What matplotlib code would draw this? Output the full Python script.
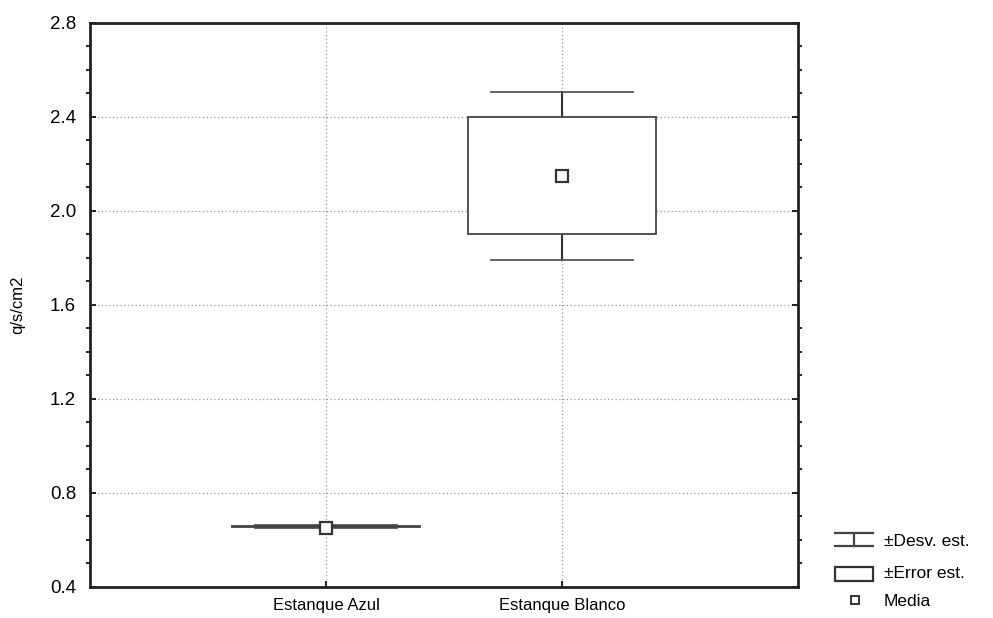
import matplotlib.pyplot as plt
from matplotlib.patches import Rectangle
from matplotlib.ticker import MultipleLocator

plt.rcParams['font.family'] = ['Liberation Sans', 'DejaVu Sans']

grupos = ['Estanque Azul', 'Estanque Blanco']
media = [0.652, 2.15]
err_lo = [0.654, 1.90]
err_hi = [0.659, 2.40]
sd_lo = [0.651, 1.79]
sd_hi = [0.662, 2.505]

fig = plt.figure(figsize=(9.93, 6.18), dpi=100)
ax = fig.add_axes([0.0906, 0.0502, 0.7130, 0.9126])

box_w = 0.80
cap_w = 0.60
for i, g in enumerate(grupos):
    x = i + 1
    # bigote (desviacion estandar)
    ax.plot([x, x], [sd_lo[i], err_lo[i]], color='#333333', lw=1.5, zorder=3)
    ax.plot([x, x], [err_hi[i], sd_hi[i]], color='#333333', lw=1.5, zorder=3)
    ax.plot([x - cap_w / 2, x + cap_w / 2], [sd_lo[i]] * 2, color='#555555', lw=1.3, zorder=3)
    ax.plot([x - cap_w / 2, x + cap_w / 2], [sd_hi[i]] * 2, color='#555555', lw=1.3, zorder=3)
    # caja (error estandar)
    ax.add_patch(Rectangle((x - box_w / 2, err_lo[i]), box_w, err_hi[i] - err_lo[i],
                           facecolor='white', edgecolor='#444444', lw=1.3, zorder=4))
    ax.plot(x, media[i], 's', ms=8, mfc='white', mec='#333333', mew=1.6, zorder=5)

ax.set_xlim(0, 3)
ax.set_ylim(0.4, 2.8)
ax.set_xticks([1, 2])
ax.set_xticklabels(grupos, fontsize=12)
ax.yaxis.set_major_locator(MultipleLocator(0.4))
ax.yaxis.set_minor_locator(MultipleLocator(0.1))
ax.yaxis.set_major_formatter(plt.FormatStrFormatter('%.1f'))
ax.tick_params(axis='both', direction='in', length=4, width=1.2, pad=8)
ax.tick_params(axis='y', labelsize=13.5, pad=10)
ax.tick_params(axis='y', which='both', right=True)
ax.tick_params(axis='y', which='minor', length=3, width=1.2)
ax.grid(True, which='major', ls=(0, (1, 2)), color='#999999', lw=0.9)
for s in ax.spines.values():
    s.set_linewidth(2)
    s.set_color('#222222')
ax.set_ylabel('q/s/cm2', fontsize=12, labelpad=18)

# leyenda
lg = fig.add_axes([0.83, 0.0, 0.17, 0.15])
lg.set_xlim(0, 170)
lg.set_ylim(93, 0)
lg.axis('off')
lg.plot([11, 49], [8, 8], color='#444444', lw=1.6)
lg.plot([11, 49], [21, 21], color='#444444', lw=1.6)
lg.plot([30, 30], [8, 21], color='#444444', lw=1.6)
lg.add_patch(Rectangle((11, 42), 38, 14, facecolor='white', edgecolor='#333333', lw=1.6))
lg.plot(31, 75, 's', ms=6, mfc='white', mec='#333333', mew=1.4)
lg.text(60, 16, '±Desv. est.', fontsize=12.5, va='center')
lg.text(60, 48, '±Error est.', fontsize=12.5, va='center')
lg.text(60, 76, 'Media', fontsize=12.5, va='center')

fig.savefig('out.png', dpi=100)
